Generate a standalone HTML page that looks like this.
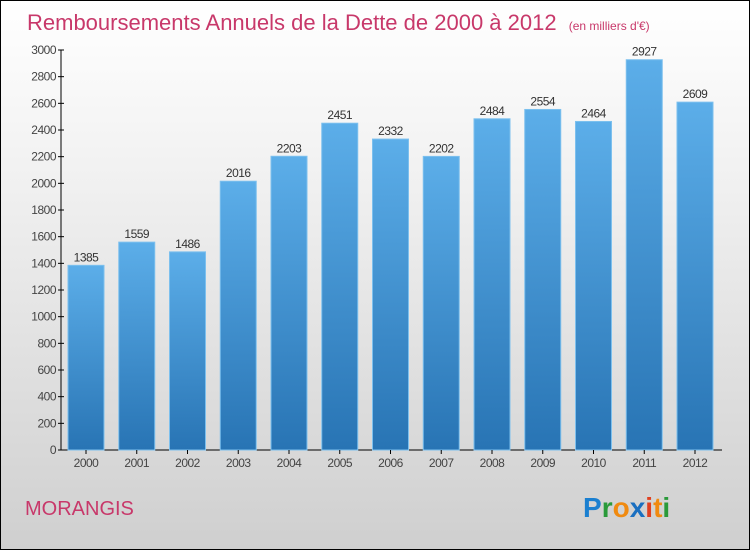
<!DOCTYPE html>
<html><head><meta charset="utf-8"><style>
body{margin:0}
#wrap{position:relative;width:748px;height:548px;border:1px solid #000;background:linear-gradient(#ffffff,#f2f2f2 30%,#cfcfcf);font-family:"Liberation Sans",sans-serif;overflow:hidden}
</style></head><body>
<div id="wrap">
<svg id="chart" width="748" height="548">
<defs><linearGradient id="bg" x1="0" y1="0" x2="0" y2="1"><stop offset="0" stop-color="#5caee9"/><stop offset="1" stop-color="#2874b4"/></linearGradient></defs>
<text x="26" y="29" font-size="22" fill="#c8386a">Remboursements Annuels de la Dette de 2000 à 2012 <tspan font-size="12" dx="6">(en milliers d'€)</tspan></text>
<text x="24" y="514" font-size="20" fill="#c8386a">MORANGIS</text>
<text x="582" y="516" font-size="28" font-weight="bold"><tspan fill="#1a7fd0">P</tspan><tspan fill="#2a9a3a">r</tspan><tspan fill="#f08a10">o</tspan><tspan fill="#1a6fc0">x</tspan><tspan fill="#e04020">i</tspan><tspan fill="#f08a10">t</tspan><tspan fill="#2a9a3a">i</tspan></text>
<g id="plot"></g>
</svg>
</div>
<script>
const years=["2000","2001","2002","2003","2004","2005","2006","2007","2008","2009","2010","2011","2012"];
const values=[1385,1559,1486,2016,2203,2451,2332,2202,2484,2554,2464,2927,2609];
const yTicks=[0,200,400,600,800,1000,1200,1400,1600,1800,2000,2200,2400,2600,2800,3000];
const NS="http://www.w3.org/2000/svg";
const g=document.getElementById('plot');
const x0=60,y0=449,yTop=49,yMax=3000,step=50.75,bw=36,firstX=67;
const y=v=>y0-(v/yMax)*(y0-yTop);
const xc=i=>firstX+i*step+bw/2;
function mk(t,a){const e=document.createElementNS(NS,t);for(const k in a)e.setAttribute(k,a[k]);g.appendChild(e);return e;}
let e=mk('line',{x1:x0,y1:yTop,x2:x0,y2:y0,stroke:'#000'});


e=mk('line',{x1:x0,y1:y0,x2:721,y2:y0,stroke:'#000'});


yTicks.forEach(v=>{
 const t=mk('line',{x1:x0-3,y1:y(v),x2:x0+3,y2:y(v),stroke:'#000'});
 
 
 const l=mk('text',{x:x0-5,y:y(v)+4,'font-size':12,fill:'#444','text-anchor':'end','letter-spacing':'-0.5'});
 l.textContent=v;
 
 
});
values.forEach((v,i)=>{
 const b=mk('rect',{x:xc(i)-bw/2,y:y(v),width:bw,height:y0-y(v),fill:'url(#bg)',stroke:'#7cc0ee','stroke-width':1});
 
 
 const vl=mk('text',{x:xc(i),y:y(v)-4,'font-size':12,fill:'#333','text-anchor':'middle','letter-spacing':'-0.5'});
 vl.textContent=v;
 
 
 const tk=mk('line',{x1:xc(i),y1:y0,x2:xc(i),y2:y0+4,stroke:'#000'});
 
 
 const xl=mk('text',{x:xc(i),y:y0+17,'font-size':12,fill:'#444','text-anchor':'middle','letter-spacing':'-0.5'});
 xl.textContent=years[i];
 
 
});
</script>
</body></html>
